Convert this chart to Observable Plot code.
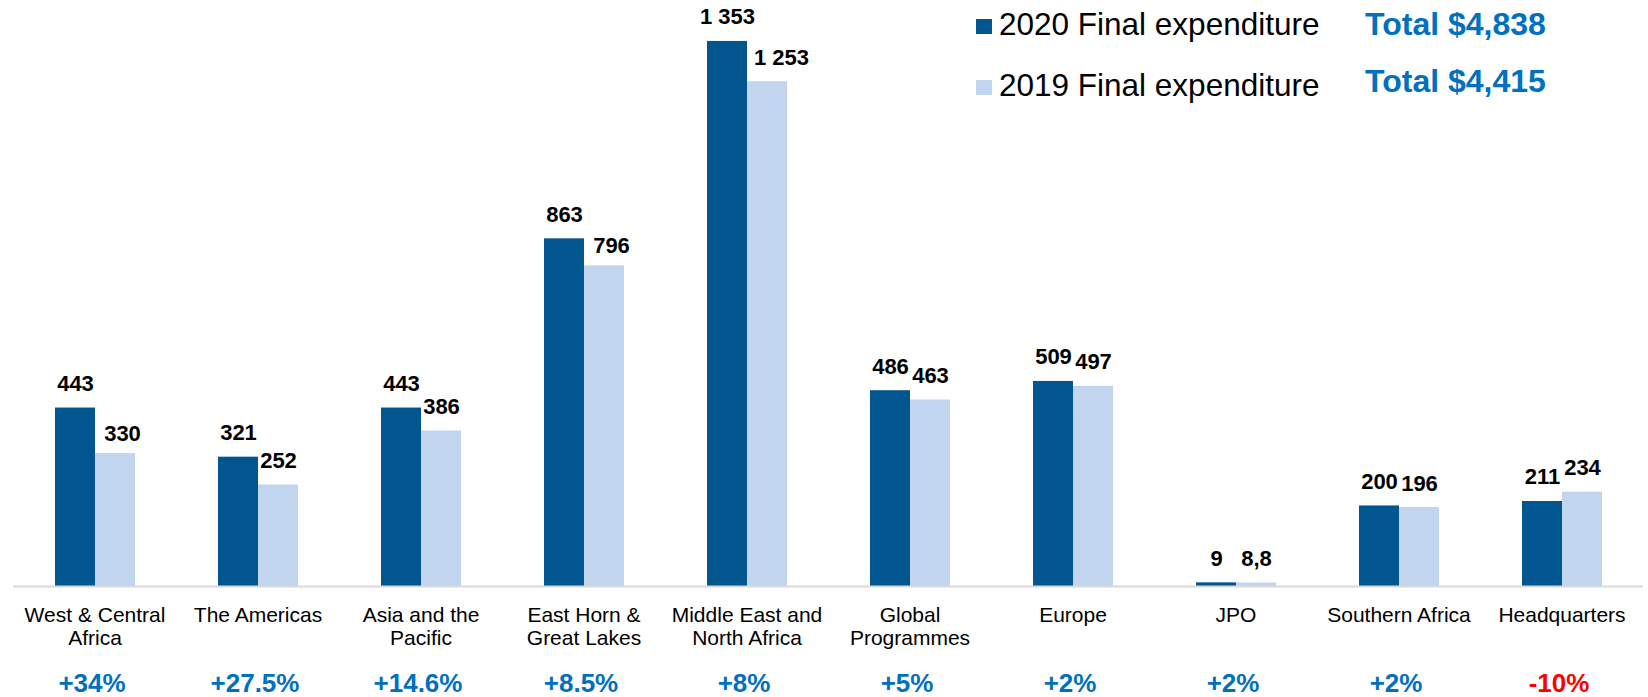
<!DOCTYPE html>
<html>
<head>
<meta charset="utf-8">
<script src="https://cdn.jsdelivr.net/npm/d3@7"></script>
<script src="https://cdn.jsdelivr.net/npm/@observablehq/plot@0.6"></script>
<style>
  html, body { margin: 0; padding: 0; background: #fff; }
  body { font-family: "Liberation Sans", Arial, sans-serif; }
  #wrap { position: relative; width: 1648px; height: 697px; }
  .lg { position: absolute; line-height: 1; white-space: nowrap; }
  .sw { position: absolute; width: 16px; height: 15px; }
</style>
</head>
<body>
<div id="wrap"></div>
<script>
// ---- data ----
const regions = ["West & Central Africa", "The Americas", "Asia and the Pacific", "East Horn & Great Lakes",
  "Middle East and North Africa", "Global Programmes", "Europe", "JPO", "Southern Africa", "Headquarters"];
const regionLabels = ["West & Central\nAfrica", "The Americas", "Asia and the\nPacific", "East Horn &\nGreat Lakes",
  "Middle East and\nNorth Africa", "Global\nProgrammes", "Europe", "JPO", "Southern Africa", "Headquarters"];
const exp2020 = [443, 321, 443, 863, 1353, 486, 509, 9, 200, 211];
const exp2019 = [330, 252, 386, 796, 1253, 463, 497, 8.8, 196, 234];
const labels2020 = ["443", "321", "443", "863", "1 353", "486", "509", "9", "200", "211"];
const labels2019 = ["330", "252", "386", "796", "1 253", "463", "497", "8,8", "196", "234"];
const changes = ["+34%", "+27.5%", "+14.6%", "+8.5%", "+8%", "+5%", "+2%", "+2%", "+2%", "-10%"];
const years = ["2020", "2019"];
const seriesNames = ["2020 Final expenditure", "2019 Final expenditure"];
const totals = ["Total $4,838", "Total $4,415"];
const colors = ["#01568F", "#C1D6EE"];

// ---- tables ----
const rows = regions.flatMap((r, i) => [
  {region: r, year: years[0], value: exp2020[i], label: labels2020[i], shift: false},
  {region: r, year: years[1], value: exp2019[i], label: labels2019[i], shift: exp2019[i] > 1000 || (exp2019[i] > 300 && exp2020[i] - exp2019[i] > 60)}
]);
const cats = regions.map((r, i) => ({region: r, label: regionLabels[i], change: changes[i], neg: changes[i].startsWith("-")}));

const chart = Plot.plot({
  width: 1648,
  height: 697,
  marginLeft: 9,
  marginRight: 1,
  marginTop: 22,
  marginBottom: 111,
  style: {fontFamily: "'Liberation Sans', Arial, sans-serif", background: "#fff"},
  fx: {domain: regions, padding: 0, axis: null},
  x: {domain: years, paddingInner: 0, paddingOuter: 1, axis: null},
  y: {domain: [0, 1400], axis: null},
  color: {domain: years, range: colors},
  marks: [
    Plot.barY(rows, {fx: "region", x: "year", y: "value", fill: "year"}),
    Plot.ruleY([0], {stroke: "#D9D9D9", strokeWidth: 2}),
    Plot.text(rows, {filter: d => !d.shift, fx: "region", x: "year", y: "value", text: "label", lineAnchor: "bottom", dy: -17,
      fontSize: 22, fontWeight: "bold", fill: "#000"}),
    Plot.text(rows, {filter: d => d.shift && d.value > 1000, fx: "region", x: "year", y: "value", text: "label", lineAnchor: "bottom", dy: -17, dx: 14,
      fontSize: 22, fontWeight: "bold", fill: "#000"}),
    Plot.text(rows, {filter: d => d.shift && d.value <= 1000, fx: "region", x: "year", y: "value", text: "label", lineAnchor: "bottom", dy: -13, dx: 7,
      fontSize: 22, fontWeight: "bold", fill: "#000"}),
    Plot.text(cats, {fx: "region", text: "label", frameAnchor: "bottom", lineAnchor: "top", dy: 18,
      fontSize: 21, lineHeight: 1.14, fill: "#000"}),
    Plot.text(cats, {filter: d => !d.neg, fx: "region", text: "change", frameAnchor: "bottom", lineAnchor: "top", dy: 87, dx: -3,
      fontSize: 26, fontWeight: "bold", fill: "#0070C0"}),
    Plot.text(cats, {filter: d => d.neg, fx: "region", text: "change", frameAnchor: "bottom", lineAnchor: "top", dy: 87, dx: -3,
      fontSize: 26, fontWeight: "bold", fill: "#FF0000"})
  ]
});

const wrap = document.getElementById("wrap");
wrap.appendChild(chart);

// ---- legend overlay ----
const legendTops = [9.4, 70.4];
const swatchTops = [19, 80];
const totalTops = [8, 65];
seriesNames.forEach((name, i) => {
  const sw = document.createElement("div");
  sw.className = "sw";
  sw.style.left = "976px";
  sw.style.top = swatchTops[i] + "px";
  sw.style.background = colors[i];
  wrap.appendChild(sw);
  const t = document.createElement("div");
  t.className = "lg";
  t.style.left = "999px";
  t.style.top = legendTops[i] + "px";
  t.style.fontSize = "31.5px";
  t.style.color = "#000";
  t.textContent = name;
  wrap.appendChild(t);
  const tt = document.createElement("div");
  tt.className = "lg";
  tt.style.left = "1365px";
  tt.style.top = totalTops[i] + "px";
  tt.style.fontSize = "32px";
  tt.style.fontWeight = "bold";
  tt.style.color = "#0070C0";
  tt.textContent = totals[i];
  wrap.appendChild(tt);
});
</script>
</body>
</html>
